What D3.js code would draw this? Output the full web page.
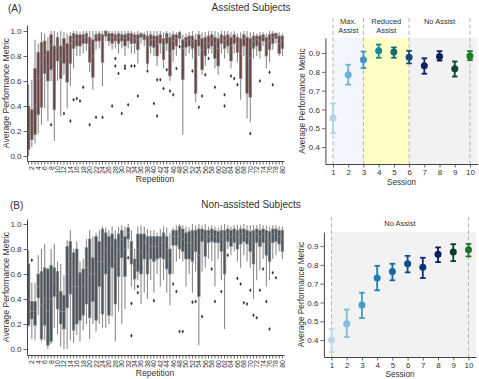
<!DOCTYPE html>
<html><head><meta charset="utf-8">
<script src="https://cdn.jsdelivr.net/npm/d3@7"></script>
<style>
body{margin:0;background:#fff}
svg{display:block}
text{font-family:"Liberation Sans",Arial,sans-serif;fill:#333}
</style>
</head><body>
<svg id="c" width="479" height="379"></svg>
<script>
// ---------- DATA ----------
const repetitions = d3.range(1, 81);
const repTickLabels = repetitions.filter(r => r % 2 === 0);
const boxYTicks = [0, 0.2, 0.4, 0.6, 0.8, 1.0];

// [whiskerLow, q1, median, q3, whiskerHigh] per repetition
const assistedBoxes = [
[0.0,0.05,0.2,0.4,0.57],[0.07,0.13,0.25,0.37,0.61],[0.1,0.17,0.4,0.7,0.93],[0.18,0.33,0.62,0.83,0.9],
[0.25,0.39,0.75,0.91,0.99],[0.38,0.66,0.8,0.92,0.98],[0.28,0.6,0.72,0.84,0.95],[0.6,0.69,0.88,0.97,1.0],
[0.12,0.37,0.7,0.88,1.0],[0.6,0.76,0.87,0.95,0.99],[0.32,0.62,0.78,0.88,1.0],[0.65,0.74,0.88,0.94,0.99],
[0.38,0.59,0.8,0.9,0.98],[0.56,0.74,0.9,0.96,0.99],[0.7,0.86,0.93,0.98,1.0],[0.8,0.88,0.94,0.97,1.0],
[0.8,0.88,0.93,0.97,0.99],[0.82,0.9,0.95,0.97,1.0],[0.84,0.9,0.95,0.98,1.0],[0.67,0.75,0.88,0.95,1.0],
[0.53,0.63,0.8,0.93,1.0],[0.85,0.92,0.95,0.97,1.0],[0.86,0.92,0.96,0.98,1.0],[0.56,0.75,0.92,0.97,1.0],
[0.92,0.96,0.98,1.0,1.0],[0.88,0.92,0.95,0.98,1.0],[0.85,0.9,0.95,0.98,1.0],[0.86,0.92,0.95,0.97,1.0],
[0.82,0.9,0.95,0.98,1.0],[0.86,0.92,0.95,0.97,1.0],[0.8,0.88,0.94,0.97,1.0],[0.86,0.92,0.96,0.98,1.0],
[0.82,0.9,0.95,0.98,1.0],[0.82,0.9,0.94,0.97,0.99],[0.74,0.85,0.93,0.97,1.0],[0.9,0.95,0.97,0.98,0.99],
[0.88,0.93,0.95,0.97,0.99],[0.7,0.74,0.88,0.96,1.0],[0.82,0.88,0.93,0.97,1.0],[0.8,0.87,0.93,0.96,1.0],
[0.72,0.8,0.9,0.96,1.0],[0.82,0.9,0.94,0.97,1.0],[0.7,0.77,0.88,0.94,0.99],[0.84,0.9,0.95,0.98,1.0],
[0.6,0.64,0.82,0.95,0.99],[0.75,0.85,0.92,0.97,1.0],[0.8,0.88,0.94,0.97,0.99],[0.9,0.94,0.97,0.99,1.0],
[0.17,0.61,0.86,0.93,0.97],[0.8,0.87,0.92,0.95,0.98],[0.82,0.88,0.93,0.96,0.99],[0.78,0.86,0.92,0.96,1.0],
[0.43,0.5,0.8,0.93,0.98],[0.8,0.88,0.93,0.97,1.0],[0.65,0.69,0.85,0.94,0.99],[0.72,0.8,0.9,0.95,0.99],
[0.82,0.86,0.9,0.96,1.0],[0.82,0.88,0.94,0.97,1.0],[0.7,0.78,0.9,0.95,1.0],[0.65,0.72,0.86,0.94,0.99],
[0.82,0.9,0.94,0.97,1.0],[0.78,0.86,0.92,0.96,1.0],[0.82,0.88,0.94,0.97,1.0],[0.7,0.76,0.88,0.95,0.99],
[0.82,0.9,0.94,0.97,1.0],[0.75,0.83,0.9,0.95,0.98],[0.45,0.62,0.82,0.94,0.99],[0.8,0.88,0.94,0.97,1.0],
[0.3,0.5,0.8,0.95,1.0],[0.27,0.47,0.78,0.94,0.99],[0.78,0.86,0.92,0.96,0.99],[0.8,0.88,0.93,0.96,0.98],
[0.78,0.84,0.92,0.96,0.99],[0.88,0.92,0.95,0.97,0.99],[0.7,0.8,0.9,0.95,0.98],[0.75,0.85,0.92,0.97,1.0],
[0.85,0.9,0.95,0.98,1.0],[0.9,0.94,0.96,0.98,0.99],[0.8,0.82,0.9,0.96,0.99],[0.8,0.86,0.92,0.96,0.98]
];
// [repetition, value]
const assistedOutliers = [
[8,0.25],[12,0.34],[14,0.28],[15,0.45],[16,0.46],[17,0.44],[18,0.55],[20,0.25],[22,0.31],[24,0.31],
[27,0.4],[28,0.78],[28,0.72],[29,0.66],[30,0.34],[31,0.72],[31,0.7],[32,0.41],[33,0.72],[34,0.72],
[35,0.48],[38,0.68],[40,0.42],[41,0.61],[41,0.32],[42,0.61],[43,0.54],[44,0.69],[45,0.52],[46,0.49],
[47,0.7],[48,0.875],[52,0.68],[54,0.39],[55,0.48],[56,0.65],[57,0.78],[59,0.55],[62,0.49],[62,0.4],
[64,0.64],[65,0.62],[66,0.57],[70,0.18],[73,0.6],[76,0.67],[77,0.57]
];

const nonAssistedBoxes = [
[0.18,0.19,0.4,0.68,0.79],[0.08,0.24,0.3,0.38,0.53],[0.07,0.19,0.3,0.38,0.53],[0.27,0.41,0.5,0.6,0.75],
[0.06,0.08,0.35,0.62,0.8],[0.07,0.19,0.4,0.65,0.84],[0.0,0.03,0.3,0.64,0.65],[0.04,0.06,0.4,0.67,0.8],
[0.17,0.42,0.55,0.65,0.84],[0.12,0.32,0.45,0.62,0.7],[0.02,0.2,0.3,0.46,0.68],[0.0,0.16,0.3,0.43,0.59],
[0.0,0.33,0.6,0.82,0.87],[0.07,0.44,0.7,0.86,0.95],[0.05,0.15,0.5,0.77,0.8],[0.11,0.2,0.5,0.8,0.86],
[0.06,0.23,0.45,0.61,0.7],[0.15,0.27,0.5,0.64,0.72],[0.2,0.36,0.65,0.81,0.88],[0.08,0.25,0.6,0.88,0.95],
[0.2,0.38,0.6,0.73,0.9],[0.14,0.23,0.6,0.9,0.93],[0.2,0.5,0.7,0.86,0.95],[0.17,0.28,0.7,0.96,0.98],
[0.17,0.6,0.8,0.93,0.97],[0.2,0.27,0.65,0.9,0.95],[0.26,0.65,0.85,0.92,0.98],[0.06,0.36,0.7,0.88,0.95],
[0.3,0.58,0.8,0.92,0.98],[0.2,0.73,0.88,0.95,0.99],[0.32,0.58,0.8,0.9,0.98],[0.8,0.88,0.93,0.97,1.0],
[0.5,0.68,0.8,0.86,0.95],[0.47,0.56,0.65,0.72,0.8],[0.55,0.62,0.8,0.92,0.98],[0.36,0.6,0.78,0.92,0.99],
[0.45,0.72,0.85,0.92,0.98],[0.4,0.6,0.75,0.9,0.96],[0.55,0.72,0.82,0.9,0.95],[0.45,0.7,0.82,0.9,0.95],
[0.6,0.72,0.82,0.9,0.93],[0.5,0.73,0.85,0.9,0.96],[0.55,0.72,0.85,0.93,0.98],[0.45,0.64,0.8,0.9,0.97],
[0.35,0.6,0.72,0.8,0.93],[0.6,0.83,0.9,0.95,0.97],[0.7,0.83,0.9,0.95,0.99],[0.72,0.8,0.9,0.98,1.0],
[0.7,0.78,0.88,0.96,0.99],[0.5,0.72,0.85,0.93,0.98],[0.6,0.72,0.85,0.94,0.97],[0.45,0.7,0.85,0.95,1.0],
[0.62,0.78,0.88,0.95,0.99],[0.03,0.42,0.75,0.96,1.0],[0.62,0.86,0.92,0.96,0.99],[0.65,0.74,0.88,0.95,1.0],
[0.72,0.85,0.9,0.95,0.98],[0.7,0.86,0.92,0.96,0.99],[0.5,0.85,0.9,0.95,0.98],[0.72,0.85,0.9,0.94,0.97],
[0.55,0.78,0.88,0.95,0.99],[0.16,0.6,0.85,0.95,1.0],[0.8,0.86,0.92,0.96,0.99],[0.75,0.82,0.9,0.95,0.98],
[0.78,0.85,0.92,0.96,0.99],[0.7,0.8,0.9,0.95,0.99],[0.65,0.84,0.92,0.96,0.99],[0.75,0.86,0.92,0.96,1.0],
[0.7,0.84,0.9,0.95,0.99],[0.65,0.78,0.88,0.94,0.99],[0.4,0.68,0.85,0.95,0.99],[0.55,0.85,0.92,0.96,0.99],
[0.63,0.82,0.9,0.95,1.0],[0.72,0.85,0.92,0.96,0.99],[0.5,0.75,0.88,0.95,0.99],[0.55,0.7,0.85,0.94,0.98],
[0.72,0.85,0.92,0.96,0.99],[0.75,0.86,0.92,0.96,0.99],[0.78,0.84,0.9,0.95,0.98],[0.72,0.78,0.88,0.95,0.98]
];
const nonAssistedOutliers = [
[2,0.71],[32,0.73],[33,0.365],[33,0.107],[35,0.5],[35,0.45],[40,0.386],[46,0.52],[47,0.46],[48,0.14],
[49,0.14],[52,0.375],[53,0.38],[55,0.26],[58,0.64],[59,0.38],[61,0.46],[63,0.75],[66,0.565],[67,0.52],
[68,0.37],[69,0.36],[70,0.47],[71,0.27],[72,0.25],[73,0.47],[74,0.64],[75,0.38],[76,0.16],[77,0.61],[78,0.57]
];

const sessions = [1,2,3,4,5,6,7,8,9,10];
const sessionYTicks = [0.4,0.5,0.6,0.7,0.8,0.9];
const assistedMean = [0.554,0.785,0.865,0.912,0.905,0.878,0.832,0.882,0.816,0.884];
const assistedLow  = [0.474,0.732,0.82,0.875,0.875,0.845,0.79,0.86,0.775,0.862];
const assistedHigh = [0.632,0.838,0.908,0.945,0.93,0.912,0.872,0.91,0.855,0.91];
const nonAssistedMean = [0.40,0.487,0.586,0.73,0.765,0.806,0.788,0.857,0.868,0.88];
const nonAssistedLow  = [0.336,0.416,0.517,0.665,0.718,0.76,0.73,0.815,0.82,0.845];
const nonAssistedHigh = [0.46,0.563,0.652,0.795,0.806,0.848,0.838,0.893,0.91,0.912];
const assistedColors = ["#b1d3e2","#6db3d8","#3b97c3","#1d8590","#156b74","#0f4e76","#0e2268","#0b1f52","#0e4634","#1b7a2c"];
const nonAssistedColors = ["#bcd8e6","#80bedb","#3d9dc7","#1d7fb3","#1668a4","#0f4c8f","#0f307a","#0c1f5c","#0b3a30","#1a742a"];
const assistedPhases = [{label:["Max.","Assist"], from:1, to:3, fill:"#f4f6fd"},
                        {label:["Reduced","Assist"], from:3, to:6, fill:"#ffffc6"},
                        {label:["No Assist"], from:6, to:10.5, fill:"#f2f2f2", center:8}];
const assistedDividers = [1,3,6,10];
const nonAssistedPhases = [{label:["No Assist"], from:1, to:10.5, fill:"#f2f2f2", center:5.5}];
const nonAssistedDividers = [1,10];

// ---------- DRAW ----------
const svg = d3.select("#c");
const spine = "#444";

function boxPanel(cfg) {
  const g = svg.append("g");
  const x = d3.scaleBand().domain(repetitions).range([27, 284]);
  const y = d3.scaleLinear().domain(cfg.yDomain).range(cfg.yRange);
  const bw = x.bandwidth() * 0.8;
  const cx = r => x(r) + x.bandwidth() / 2;
  const gray = "#8c8c8c";
  const b = g.append("g");
  cfg.boxes.forEach((d, i) => {
    const r = repetitions[i];
    b.append("line").attr("x1", cx(r)).attr("x2", cx(r)).attr("y1", y(d[4])).attr("y2", y(d[3]))
      .attr("stroke", gray).attr("stroke-width", 1.1);
    b.append("line").attr("x1", cx(r)).attr("x2", cx(r)).attr("y1", y(d[1])).attr("y2", y(d[0]))
      .attr("stroke", gray).attr("stroke-width", 1.1);
    b.append("rect").attr("x", cx(r) - bw / 2).attr("width", bw)
      .attr("y", y(d[3])).attr("height", Math.max(0.5, y(d[1]) - y(d[3])))
      .attr("fill", cfg.fill).attr("stroke", gray).attr("stroke-width", 0.7);
    b.append("line").attr("x1", cx(r) - bw / 2).attr("x2", cx(r) + bw / 2).attr("y1", y(d[2])).attr("y2", y(d[2]))
      .attr("stroke", gray).attr("stroke-width", 0.8);
  });
  const sym = d3.symbol().type(d3.symbolDiamond).size(5);
  g.selectAll("path.out").data(cfg.outliers).join("path").attr("class", "out")
    .attr("d", sym).attr("transform", d => `translate(${cx(d[0])},${y(d[1])})`)
    .attr("fill", "#3a3a3a");
  // axes
  const ya = g.append("g").attr("transform", "translate(27,0)")
    .call(d3.axisLeft(y).tickValues(boxYTicks).tickFormat(d3.format(".1f")).tickSize(3.5).tickSizeOuter(0).tickPadding(2));
  const xa = g.append("g").attr("transform", `translate(0,${cfg.yRange[0]})`)
    .call(d3.axisBottom(x).tickSize(3.5).tickSizeOuter(0).tickFormat(d => d % 2 === 0 ? d : ""));
  [ya, xa].forEach(a => {
    a.select(".domain").attr("stroke", spine);
    a.selectAll(".tick line").attr("stroke", spine).attr("stroke-width", 0.8);
    a.selectAll("text").attr("fill", "#333").style("font-family", '"Liberation Sans",Arial,sans-serif');
  });
  ya.selectAll("text").attr("font-size", 8);
  xa.selectAll("text").attr("font-size", 7)
    .attr("transform", "rotate(-90)").attr("text-anchor", "end")
    .attr("x", -5).attr("y", 0).attr("dy", "0.35em");
  g.append("text").attr("x", 155).attr("y", cfg.yRange[0] + 20.5).attr("text-anchor", "middle")
    .attr("font-size", 8.5).text("Repetition");
  g.append("text").attr("transform", `translate(9,${(cfg.yRange[0] + cfg.yRange[1]) / 2}) rotate(-90)`)
    .attr("text-anchor", "middle").attr("font-size", 8.7).text("Average Performance Metric");
}

function sessionPanel(cfg) {
  const g = svg.append("g");
  const x = d3.scaleLinear().domain([0.5, 10.5]).range(cfg.xRange);
  const y = d3.scaleLinear().domain(cfg.yDomain).range(cfg.yRange);
  const [yb, yt] = cfg.yRange;
  cfg.phases.forEach(p => {
    g.append("rect").attr("x", x(p.from)).attr("width", Math.min(x(p.to), cfg.xRange[1]) - x(p.from))
      .attr("y", yt).attr("height", yb - yt).attr("fill", p.fill);
    const c = p.center !== undefined ? p.center : (p.from + p.to) / 2;
    p.label.forEach((l, k) => {
      g.append("text").attr("x", x(c)).attr("y", cfg.labelY + k * 9.2)
        .attr("text-anchor", "middle").attr("font-size", 7.5).attr("fill", "#444").text(l);
    });
  });
  cfg.dividers.forEach(s => {
    g.append("line").attr("x1", x(s)).attr("x2", x(s)).attr("y1", cfg.dashTop).attr("y2", yb)
      .attr("stroke", "#b5b5b5").attr("stroke-width", 1).attr("stroke-dasharray", "4,2.5");
  });
  sessions.forEach((s, i) => {
    const col = cfg.colors[i];
    g.append("line").attr("x1", x(s)).attr("x2", x(s)).attr("y1", y(cfg.low[i])).attr("y2", y(cfg.high[i]))
      .attr("stroke", col).attr("stroke-width", 1.8);
    [cfg.low[i], cfg.high[i]].forEach(v => g.append("line").attr("x1", x(s) - 2.8).attr("x2", x(s) + 2.8)
      .attr("y1", y(v)).attr("y2", y(v)).attr("stroke", col).attr("stroke-width", 1.8));
    g.append("circle").attr("cx", x(s)).attr("cy", y(cfg.mean[i])).attr("r", 3.5).attr("fill", col);
  });
  const ya = g.append("g").attr("transform", `translate(${cfg.xRange[0]},0)`)
    .call(d3.axisLeft(y).tickValues(sessionYTicks).tickFormat(d3.format(".1f")).tickSize(3.5).tickSizeOuter(0).tickPadding(2));
  const xa = g.append("g").attr("transform", `translate(0,${yb})`)
    .call(d3.axisBottom(x).tickValues(sessions).tickFormat(d3.format("d")).tickSize(3.5).tickSizeOuter(0).tickPadding(2));
  [ya, xa].forEach(a => {
    a.select(".domain").attr("stroke", spine);
    a.selectAll(".tick line").attr("stroke", spine).attr("stroke-width", 0.8);
    a.selectAll("text").attr("fill", "#333").attr("font-size", 8).style("font-family", '"Liberation Sans",Arial,sans-serif');
  });
  g.append("text").attr("x", (cfg.xRange[0] + cfg.xRange[1]) / 2).attr("y", Math.min(yb + 20.5, 376.5))
    .attr("text-anchor", "middle").attr("font-size", 8.2).text("Session");
  g.append("text").attr("transform", `translate(${cfg.xRange[0] - 20},${(yb + yt) / 2}) rotate(-90)`)
    .attr("text-anchor", "middle").attr("font-size", 8.3).text("Average Performance Metric");
}

boxPanel({boxes: assistedBoxes, outliers: assistedOutliers, yDomain: [-0.04, 1.048], yRange: [161, 25], fill: "#6e4242"});
boxPanel({boxes: nonAssistedBoxes, outliers: nonAssistedOutliers, yDomain: [-0.048, 1.04], yRange: [355, 219], fill: "#48535c"});
sessionPanel({mean: assistedMean, low: assistedLow, high: assistedHigh, colors: assistedColors,
  phases: assistedPhases, dividers: assistedDividers, xRange: [325.4, 477.6], yDomain: [0.31, 0.98], yRange: [164, 38],
  labelY: 24, dashTop: 18});
sessionPanel({mean: nonAssistedMean, low: nonAssistedLow, high: nonAssistedHigh, colors: nonAssistedColors,
  phases: nonAssistedPhases, dividers: nonAssistedDividers, xRange: [323.9, 476.1], yDomain: [0.31, 0.975], yRange: [357, 232],
  labelY: 225.5, dashTop: 217});

svg.append("text").attr("x", 8).attr("y", 12).attr("font-size", 10).attr("fill", "#222").text("(A)");
svg.append("text").attr("x", 251).attr("y", 11).attr("text-anchor", "middle").attr("font-size", 10).attr("fill", "#444").text("Assisted Subjects");
svg.append("text").attr("x", 10).attr("y", 209).attr("font-size", 10).attr("fill", "#222").text("(B)");
svg.append("text").attr("x", 251).attr("y", 208).attr("text-anchor", "middle").attr("font-size", 10).attr("fill", "#444").text("Non-assisted Subjects");
</script>
</body></html>
